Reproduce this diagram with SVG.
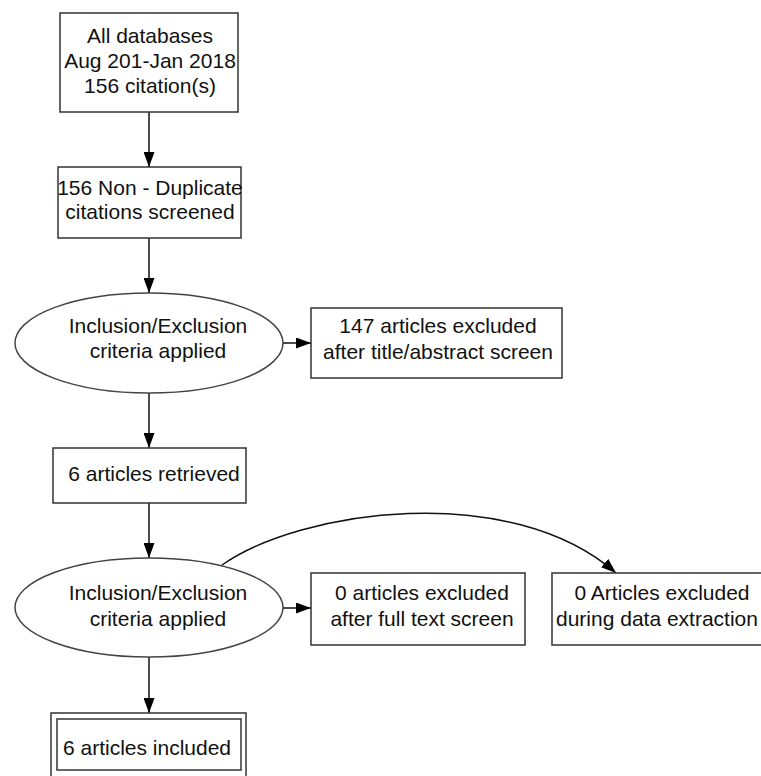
<svg xmlns="http://www.w3.org/2000/svg" width="761" height="776" viewBox="0 0 761 776">
<defs>
<style>
.box{fill:#fff;stroke:#333;stroke-width:1.5}
.ell{fill:#fff;stroke:#444;stroke-width:1.5}
.t{font-family:"Liberation Sans",Arial,sans-serif;font-size:21px;fill:#111;text-anchor:middle}
.edge{fill:none;stroke:#111;stroke-width:1.5}
</style>
<marker id="arr" viewBox="0 0 15 11" refX="15" refY="5.5" markerWidth="15" markerHeight="11" markerUnits="userSpaceOnUse" orient="auto">
<path d="M0,0 L15,5.5 L0,11 z" fill="#000"/>
</marker>
</defs>
<rect width="761" height="776" fill="#fff"/>
<g id="edges">
<path class="edge" d="M149,112 L149,167" marker-end="url(#arr)"/>
<path class="edge" d="M149,238 L149,293" marker-end="url(#arr)"/>
<path class="edge" d="M283,343 L311,343" marker-end="url(#arr)"/>
<path class="edge" d="M149,393 L149,448" marker-end="url(#arr)"/>
<path class="edge" d="M149,503 L149,558" marker-end="url(#arr)"/>
<path class="edge" d="M283,608 L311,608" marker-end="url(#arr)"/>
<path class="edge" d="M222,565 C300,510 510,480 616,573" marker-end="url(#arr)"/>
<path class="edge" d="M149,657 L149,713" marker-end="url(#arr)"/>
</g>
<g id="n1">
<rect class="box" x="60" y="13" width="178" height="99"/>
<text class="t" x="150" y="42.5">All databases</text>
<text class="t" x="150" y="67.5">Aug 201-Jan 2018</text>
<text class="t" x="150" y="92.5">156 citation(s)</text>
</g>
<g id="n2">
<rect class="box" x="58" y="167" width="183" height="71"/>
<text class="t" x="150" y="194.5">156 Non - Duplicate</text>
<text class="t" x="150" y="218.5">citations screened</text>
</g>
<g id="n3">
<ellipse class="ell" cx="149" cy="343" rx="134" ry="50"/>
<text class="t" x="158" y="332.5">Inclusion/Exclusion</text>
<text class="t" x="158" y="357.5">criteria applied</text>
</g>
<g id="n4">
<rect class="box" x="311" y="308" width="251" height="70"/>
<text class="t" x="438" y="332.5">147 articles excluded</text>
<text class="t" x="438" y="358.5">after title/abstract screen</text>
</g>
<g id="n5">
<rect class="box" x="53" y="448" width="193" height="55"/>
<text class="t" x="154" y="480.5">6 articles retrieved</text>
</g>
<g id="n6">
<ellipse class="ell" cx="149" cy="607.5" rx="134" ry="49.5"/>
<text class="t" x="158" y="599.5">Inclusion/Exclusion</text>
<text class="t" x="158" y="625.5">criteria applied</text>
</g>
<g id="n7">
<rect class="box" x="311" y="573" width="214" height="72"/>
<text class="t" x="422" y="599.5">0 articles excluded</text>
<text class="t" x="422" y="625.5">after full text screen</text>
</g>
<g id="n8">
<rect class="box" x="552" y="573" width="220" height="72"/>
<text class="t" x="662" y="599.5">0 Articles excluded</text>
<text class="t" x="657" y="625.5">during data extraction</text>
</g>
<g id="n9">
<rect class="box" x="51" y="713" width="195" height="64"/>
<rect class="box" x="57" y="719" width="184" height="51"/>
<text class="t" x="147" y="754.5">6 articles included</text>
</g>
</svg>
